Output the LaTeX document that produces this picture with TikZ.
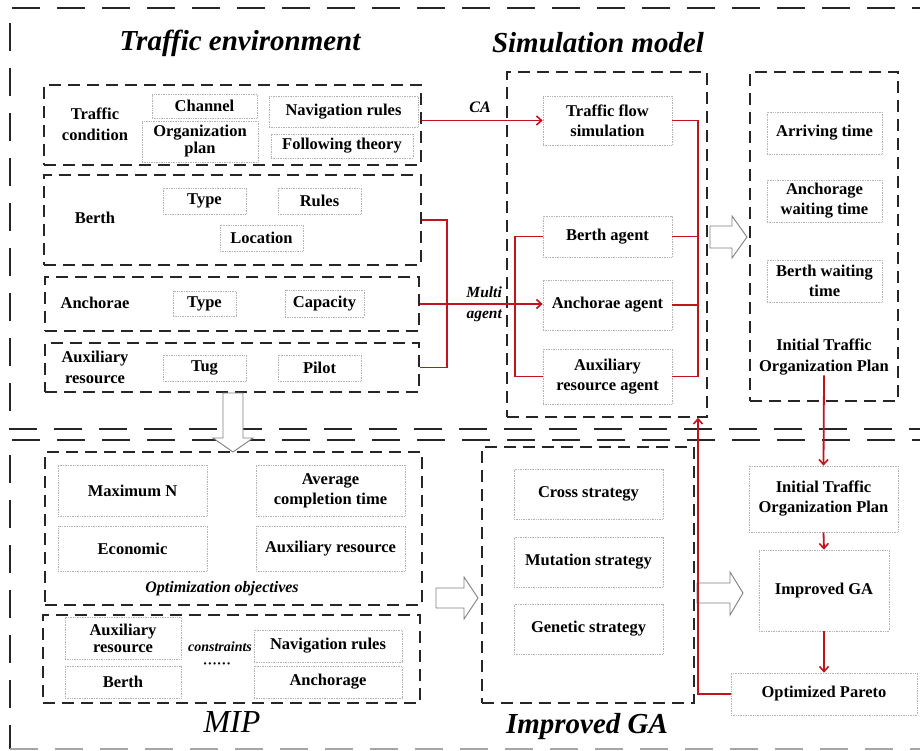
\documentclass[tikz,border=0pt]{standalone}
\usepackage{fontspec}
\setmainfont{Liberation Serif}
\usetikzlibrary{arrows.meta}
\definecolor{redline}{RGB}{192,20,30}
\tikzset{
  frame/.style={draw=black!85, line width=2pt, dash pattern=on 28pt off 17pt},
  dbox/.style={draw=black!85, line width=1.6pt, dash pattern=on 12pt off 7pt, inner sep=0pt},
  ibox/.style={draw=gray!60, densely dotted, line width=0.7pt, inner sep=0pt, align=center,
    font=\fontsize{16.5}{20}\selectfont\bfseries},
  lbl/.style={inner sep=0pt, align=center, font=\fontsize{16.5}{21}\selectfont\bfseries},
  ttl/.style={inner sep=0pt, font=\fontsize{29}{34}\selectfont\bfseries\itshape},
  rl/.style={draw=redline, line width=1.8pt},
  ra/.style={rl, -{Straight Barb[length=5pt,width=9pt,line width=1.6pt]}},
  hollow/.style={draw=gray, line width=0.9pt, fill=white}
}
\begin{document}
\begin{tikzpicture}[x=1pt,y=-1pt]
\useasboundingbox (0,0) rectangle (920,751);
\fill[white] (0,0) rectangle (920,751);
% outer frames
\draw[frame] (940,8) -- (10,8) -- (10,429) -- (940,429);
\draw[frame] (940,440) -- (10,440) -- (10,749);
\draw[frame, draw=gray!70] (10,749) -- (940,749);
% titles
\node[ttl] (t1) at (240,43) {Traffic environment};
\node[ttl] (t2) at (598,43) {Simulation model};
\node[ttl, font=\fontsize{32}{36}\selectfont\itshape] (t3) at (232,722) {MIP};
\node[ttl, font=\fontsize{29}{34}\selectfont\bfseries\itshape] (t4) at (587,727) {Improved GA};

% traffic condition
\node[dbox, minimum width=377, minimum height=80] (tc) at (232.5,125) {};
\node[lbl] (tcl) at (95,124) {Traffic\\condition};
\node[ibox, minimum width=105, minimum height=24] (chan) at (204.5,106) {Channel};
\node[ibox, minimum width=116, minimum height=41] (orgp) at (200,141.5) {Organization\\[-3pt]plan};
\node[ibox, minimum width=149, minimum height=31] (navr) at (343.5,111.5) {Navigation rules};
\node[ibox, minimum width=142, minimum height=24] (folt) at (342,146) {Following theory};

% berth
\node[dbox, minimum width=377, minimum height=90] (bb) at (232.5,220) {};
\node[lbl] (bbl) at (95,218) {Berth};
\node[ibox, minimum width=83, minimum height=26] (btype) at (204.5,201) {Type};
\node[ibox, minimum width=83, minimum height=26] (brules) at (319.5,201) {Rules};
\node[ibox, minimum width=83, minimum height=26] (bloc) at (261.5,238) {Location};

% anchorae
\node[dbox, minimum width=374, minimum height=54] (ab) at (232,304) {};
\node[lbl] (abl) at (95,303) {Anchorae};
\node[ibox, minimum width=63, minimum height=25] (atype) at (204.5,303.5) {Type};
\node[ibox, minimum width=79, minimum height=27] (acap) at (324.5,303.5) {Capacity};

% auxiliary
\node[dbox, minimum width=374, minimum height=49] (xb) at (232,367.5) {};
\node[lbl] (xbl) at (95,367) {Auxiliary\\resource};
\node[ibox, minimum width=83, minimum height=26] (tug) at (204.5,368) {Tug};
\node[ibox, minimum width=83, minimum height=26] (pilot) at (319.5,368) {Pilot};

% simulation model box
\node[dbox, minimum width=200, minimum height=345] (sim) at (607,244.5) {};
\node[ibox, minimum width=129, minimum height=49] (tfs) at (607.5,120.5) {Traffic flow\\simulation};
\node[ibox, minimum width=129, minimum height=41] (bag) at (607.5,236.5) {Berth agent};
\node[ibox, minimum width=129, minimum height=50] (aag) at (607.5,305) {Anchorae agent};
\node[ibox, minimum width=129, minimum height=55] (xag) at (607.5,376.5) {Auxiliary\\resource agent};

% right box
\node[dbox, minimum width=148, minimum height=329] (rb) at (824,236.5) {};
\node[ibox, minimum width=115, minimum height=42] (arr) at (824.5,133) {Arriving time};
\node[ibox, minimum width=115, minimum height=42] (awt) at (824.5,201) {Anchorage\\waiting time};
\node[ibox, minimum width=115, minimum height=42] (bwt) at (824.5,281) {Berth waiting\\time};
\node[lbl] (itoptxt) at (824,357) {Initial Traffic\\Organization Plan};

% optimization objectives
\node[dbox, minimum width=377, minimum height=153] (oo) at (233.5,528.5) {};
\node[ibox, minimum width=149, minimum height=51] (maxn) at (132.5,490.5) {Maximum N};
\node[ibox, minimum width=149, minimum height=51] (act) at (330.5,490.5) {Average\\completion time};
\node[ibox, minimum width=149, minimum height=45] (eco) at (132.5,548.5) {Economic};
\node[ibox, minimum width=149, minimum height=45] (oaux) at (330.5,548.5) {Auxiliary resource};
\node[lbl, font=\fontsize{16}{20}\selectfont\bfseries\itshape] (ool) at (222,589) {Optimization objectives};

% constraints
\node[dbox, minimum width=377, minimum height=88] (cb) at (231.5,659) {};
\node[ibox, minimum width=116, minimum height=42] (caux) at (123,638) {Auxiliary\\[-3pt]resource};
\node[ibox, minimum width=116, minimum height=32] (cber) at (123,682) {Berth};
\node[ibox, minimum width=148, minimum height=32] (cnav) at (328,646) {Navigation rules};
\node[ibox, minimum width=148, minimum height=32] (canc) at (328,682) {Anchorage};
\node[lbl, font=\fontsize{14}{16}\selectfont\bfseries\itshape] (cl) at (220,647) {constraints};
\node[lbl, font=\fontsize{14}{16}\selectfont\bfseries] (cdots) at (217,666) {\textperiodcentered\textperiodcentered\textperiodcentered\textperiodcentered\textperiodcentered\textperiodcentered};

% improved GA box
\node[dbox, minimum width=212, minimum height=256] (ga) at (588,575) {};
\node[ibox, minimum width=149, minimum height=50] (cross) at (588.5,494) {Cross strategy};
\node[ibox, minimum width=149, minimum height=50] (mut) at (588.5,562) {Mutation strategy};
\node[ibox, minimum width=149, minimum height=50] (gen) at (588.5,629) {Genetic strategy};

% right bottom column
\node[ibox, minimum width=149, minimum height=66] (itop) at (823.5,499) {Initial Traffic\\Organization Plan};
\node[ibox, minimum width=130, minimum height=81] (iga) at (824,590.5) {Improved GA};
\node[ibox, minimum width=186, minimum height=42] (op) at (824,694) {Optimized Pareto};

% hollow arrows
\draw[hollow] (223,393) -- (243,393) -- (243,438) -- (253,438) -- (233,452) -- (213,438) -- (223,438) -- cycle;
\draw[hollow] (710,226) -- (732,226) -- (732,216) -- (747,237) -- (732,258) -- (732,248) -- (710,248) -- cycle;
\draw[hollow] (436,588) -- (464,588) -- (464,577) -- (478,598) -- (464,619) -- (464,608) -- (436,608) -- cycle;
\draw[hollow] (697,583) -- (730,583) -- (730,572) -- (743,593) -- (730,615) -- (730,603) -- (697,603) -- cycle;

% red connectors
\coordinate (lbus) at (515,0);
\coordinate (rbus) at (698,0);
\coordinate (mbus) at (447,0);
\draw[ra] (tfs.west -| tc.east) -- (tfs.west);
\node[lbl, font=\fontsize{16}{20}\selectfont\bfseries\itshape] (cal) at (480,107) {CA};
\draw[rl] (bb.east) -| (mbus |- xb.east) -- (xb.east);
\draw[ra] (ab.east) -- (ab.east -| aag.west);
\node[lbl, font=\fontsize{15.5}{21}\selectfont\bfseries\itshape, align=right, anchor=east] (mal) at (502,304) {Multi\\agent};
\draw[rl] (bag.west) -| (lbus |- xag.west) -- (xag.west);
\draw[rl] (tfs.east) -| (rbus |- xag.east) -- (xag.east);
\draw[rl] (bag.east) -- (bag.east -| rbus);
\draw[rl] (aag.east) -- (aag.east -| rbus);
\draw[ra] (itoptxt.south) -- (itop.north);
\draw[ra] (itop.south) -- (iga.north);
\draw[ra] (iga.south) -- (op.north);
\draw[ra] (op.west) -| (sim.south -| rbus);
\end{tikzpicture}
\end{document}
